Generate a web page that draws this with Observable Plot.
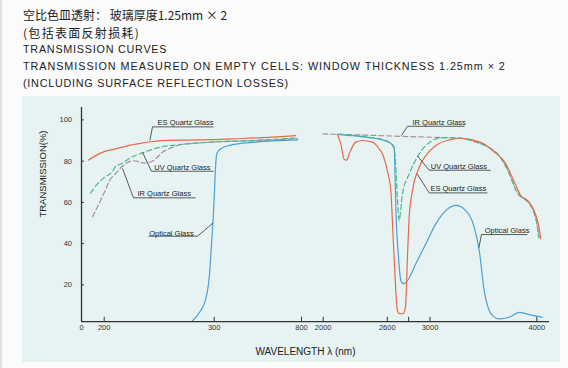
<!DOCTYPE html>
<html><head><meta charset="utf-8">
<script src="https://cdn.jsdelivr.net/npm/d3@7"></script>
<script src="https://cdn.jsdelivr.net/npm/@observablehq/plot@0.6"></script>
<style>
body{margin:0;background:#fbfbfb;width:568px;height:368px;position:relative;overflow:hidden;font-family:"Liberation Sans",Arial,sans-serif;color:#222;border-left:2px solid #e2e2e2;box-sizing:border-box;}
.t{position:absolute;left:21px;white-space:nowrap;line-height:1;}
.cjk{font-family:"Noto Sans CJK SC","Noto Sans",sans-serif;}
.en{font-family:"Liberation Sans",Arial,sans-serif;font-size:10.8px;letter-spacing:0.75px;}
#chart{position:absolute;left:20px;top:96px;}
</style></head><body>
<div class="t cjk" style="top:8.5px;font-size:12px;">空比色皿透射： 玻璃厚度1.25mm × 2</div>
<div class="t cjk" style="top:26.5px;font-size:12px;letter-spacing:1.3px;">(包括表面反射损耗)</div>
<div class="t en" style="top:44px;">TRANSMISSION CURVES</div>
<div class="t en" style="top:61px;letter-spacing:0.95px;">TRANSMISSION MEASURED ON EMPTY CELLS: WINDOW THICKNESS 1.25mm × 2</div>
<div class="t en" style="top:77.5px;">(INCLUDING SURFACE REFLECTION LOSSES)</div>
<div id="chart"></div>
<script>
// ---- data (wavelength nm, transmission %) ----
const esLeftX = [62,115,200,207.5,216.6,222.7,231.8,242.4,253,275.7,297.5,405,577,767];
const esLeftY = [80.5,82.3,84.6,85.6,86.8,87.6,88.5,89.4,89.9,90.2,90.4,90.8,91.4,92.4];
const uvLeftX = [79,141,200,207.5,210.5,216.6,222.7,234.8,243.9,253,268.2,283.3,300,538,777];
const uvLeftY = [64.5,69,72,75,77.5,79,81.3,84,85.7,87,88,88.7,89.3,90.1,91.2];
const irLeftX = [97,185,201.5,204.8,210.5,216.6,221.2,225.7,229.4,233.3,237.5,242.4,247.5,253,260.2,268.2,283,300,538,777];
const irLeftY = [53,63,66.5,70.5,74,77.5,79.3,80.2,80,79.3,79.1,79.6,81.5,84.3,86.3,87.8,88.7,89.3,89.9,90.9];
const opLeftX = [280.3,283.3,287,290.9,293.5,295.5,297.8,299.1,301,305.7,310,314.9,325,337.8,385.9,538,777];
const opLeftY = [2.7,4.3,7,10.8,16,23.7,41.5,52.8,64,73.8,80,83.5,85,86,87.6,89.2,90.3];

const esRightX = [2134,2165,2197,2220,2243,2305,2368,2462,2524,2555,2602,2633,2649,2665,2680,2692,2705,2725,2750,2764,2773,2789,2805,2836,2899,2961,3054,3180,3288,3398,3500,3600,3700,3780,3820,3850,3900,3950,3990,4020,4037];
const esRightY = [92.7,88.4,80.8,80.5,83.5,89.2,90,89.2,86,83.5,75,66,49.6,32,17,8.5,6.4,6.0,6.1,7.5,10.8,33.4,52.8,65.7,77,82.7,87.6,90.3,91.1,90.3,88.5,84.5,79.5,71,66.5,63.3,61.5,58.5,54,48,42.3];
const uvRightX = [2134,2300,2431,2530,2618,2650,2665,2680,2696,2712,2725,2742,2805,2850,2899,2960,3023,3117,3200,3304,3429,3554,3650,3742,3800,3835,3880,3929,3970,4000,4018];
const uvRightY = [93,92.4,91.6,90.8,89.2,87.5,86,77,61,51.2,56,64.1,73.8,79,83.5,87.5,90,91.4,91.3,90.9,89.3,86.5,82.5,74,66.5,63.5,61.8,59.5,55.5,50,43];
const irRightX = [1987,2400,2800,3180,3304,3429,3554,3650,3742,3800,3835,3880,3929,3970,4000,4022];
const irRightY = [93.2,92.6,91.9,91.3,91.0,89.3,86.5,82.5,74,66.5,63.5,61.8,59.5,55.5,50,43];
const opRightX = [2134,2300,2431,2530,2618,2650,2665,2672,2680,2705,2727,2749,2789,2867,2961,3054,3148,3242,3335,3414,3461,3507,3554,3600,3648,3742,3835,3929,4053];
const opRightY = [93,92.2,91.4,90.6,89,87.8,86.7,75,57.6,33.4,22.1,20.5,22.1,30.2,39.9,49.6,56,58.5,56,48,36.7,17.3,7.6,4.5,3.5,4.3,6.7,5.6,4.3];

// ---- axes ----
const xTickLabels = [0,200,300,800,2000,2600,3000,4000];
const xTickMarks = [200,300,800,2000,2600,2800,3000,4000];
const yTicks = [20,40,60,80,100];

// ---- curve labels ----
const labelText = ["ES Quartz Glass","UV Quartz Glass","IR Quartz Glass","Optical Glass","IR Quartz Glass","UV Quartz Glass","ES Quartz Glass","Optical Glass"];
const labelX = [248.5,245.5,230.3,240.9,2836,3007,3004,3513];
const labelY = [98.6,77.0,64.1,45.0,98.9,77.5,66.6,46.4];
const lineY = [96.6,75.1,62.2,43.6,96.9,75.6,64.6,44.4];
const lineX1 = [243.9,243,226.6,284.8,2789,2992,2992,3482];
const lineX2 = [299.4,299.4,283,240.3,3323,3569,3538,3913];
const pointX = [241.5,234.8,216.6,299,2733,2883,2880,3458];
const pointY = [90.0,84.3,76.5,50,92.4,82.5,73.8,38];

const zip = (xs, ys) => xs.map((x, i) => ({x, y: ys[i]}));
const labels = labelText.map((t, i) => ({t, x: labelX[i], y: labelY[i], ly: lineY[i], x1: lineX1[i], x2: lineX2[i], px: pointX[i], py: pointY[i]}));

const ES = "#e8694a", UV = "#4db888", IR = "#ab8d9f", OP = "#4f9fd6", INK = "#333";
const lineOpts = (stroke, dash) => ({x: "x", y: "y", stroke, strokeWidth: 1.2, strokeDasharray: dash, curve: "monotone-x"});

const chart = Plot.plot({
  width: 538, height: 266,
  marginLeft: 59, marginRight: 11, marginTop: 11, marginBottom: 40.9,
  style: {background: "#e6f3f2", fontFamily: "Liberation Sans, Arial, sans-serif", fontSize: "7.5px", color: INK, overflow: "visible"},
  x: {type: "linear", domain: [0,200,300,800,2000,4000,4119], range: [59,81.7,191.7,279,300.7,514.3,527]},
  y: {domain: [2.2,106], range: [225.1,11]},
  marks: [
    Plot.line(zip(irLeftX, irLeftY), lineOpts(IR, "5,3")),
    Plot.line(zip(irRightX, irRightY), lineOpts(IR, "5,3")),
    Plot.line(zip(uvLeftX, uvLeftY), lineOpts(UV, "5,3")),
    Plot.line(zip(opLeftX, opLeftY), lineOpts(OP)),
    Plot.line(zip(opRightX, opRightY), lineOpts(OP)),
    Plot.line(zip(uvRightX, uvRightY), lineOpts(UV, "5,3")),
    Plot.line(zip(esLeftX, esLeftY), lineOpts(ES)),
    Plot.line(zip(esRightX, esRightY), lineOpts(ES)),
    Plot.ruleX([0], {y1: 2.2, y2: 106, stroke: INK, strokeWidth: 1.3}),
    Plot.ruleY([2.2], {x1: 0, x2: 4119, stroke: INK, strokeWidth: 1.3}),
    Plot.ruleX(xTickMarks, {y1: 2.2, y2: 4.3, stroke: INK, strokeWidth: 1}),
    Plot.ruleY(yTicks, {x1: 0, x2: 26, stroke: INK, strokeWidth: 1}),
    Plot.axisX(xTickLabels, {tickSize: 0, tickPadding: 3.5, tickFormat: d => String(d), label: null, fill: INK, fontSize: 7.5}),
    Plot.axisY(yTicks, {tickSize: 0, tickPadding: 9.5, tickFormat: d => String(d), label: null, fill: INK, fontSize: 7.5}),
    Plot.link(labels, {x1: "px", y1: "py", x2: "x1", y2: "ly", stroke: INK, strokeWidth: 0.8}),
    Plot.link(labels, {x1: "x1", y1: "ly", x2: "x2", y2: "ly", stroke: INK, strokeWidth: 0.8}),
    Plot.text(labels, {x: "x", y: "y", text: "t", textAnchor: "start", lineAnchor: "middle", fill: "#222", fontSize: 7.5}),
    Plot.text(["WAVELENGTH λ (nm)"], {text: d => d, frameAnchor: "bottom", dx: -10, dy: 30, lineAnchor: "middle", fontSize: 10, fill: "#222"}),
    Plot.text(["TRANSMISSION(%)"], {text: d => d, frameAnchor: "left", dx: -38.3, dy: 3, rotate: -90, lineAnchor: "middle", fontSize: 9.5, fill: "#222"})
  ]
});
document.getElementById("chart").appendChild(chart);
</script>
</body></html>
